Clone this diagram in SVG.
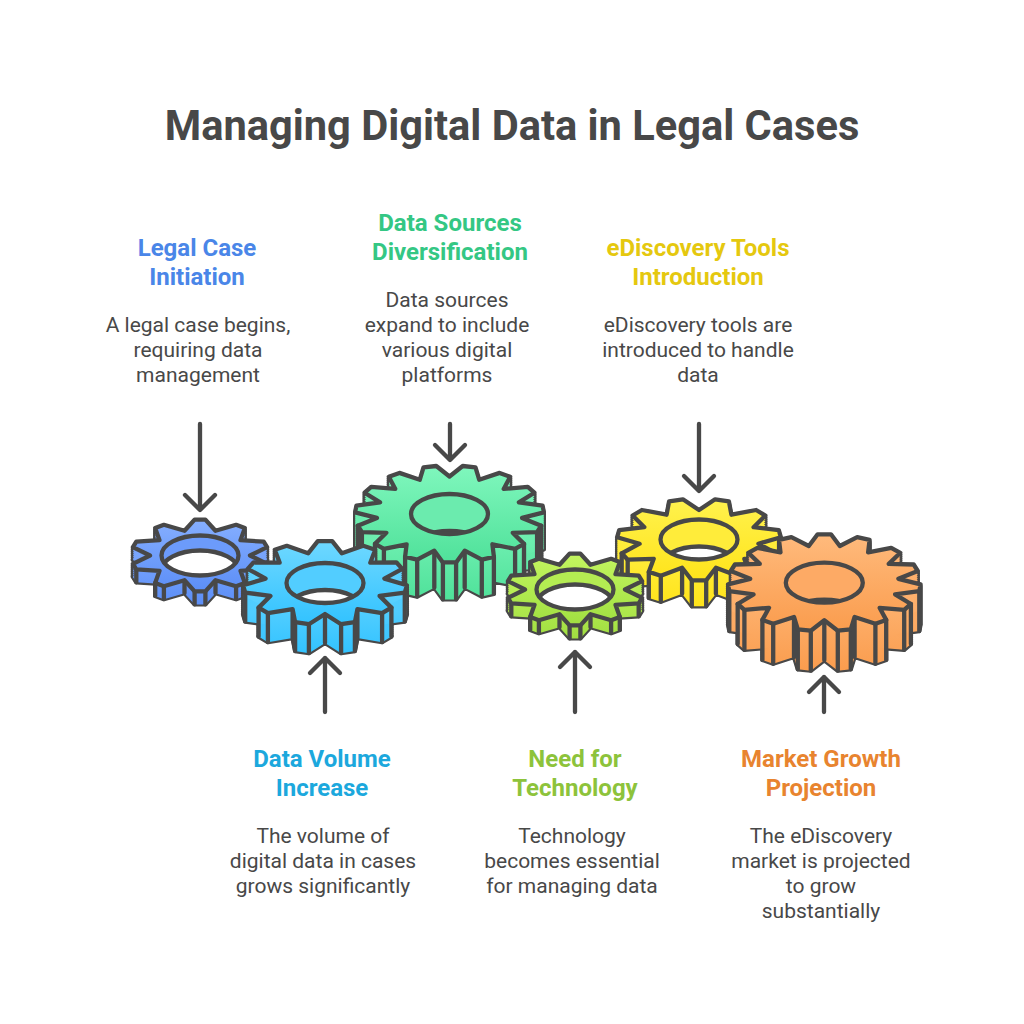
<svg xmlns="http://www.w3.org/2000/svg" width="1024" height="1024" viewBox="0 0 1024 1024">
<style>
text{font-family:Roboto,"Liberation Sans",sans-serif;text-anchor:middle}
.title{font-size:41.6px;font-weight:700;fill:#484848}
.h{font-size:24px;font-weight:700}
.b{font-size:21px;fill:#484848}
.ln{fill:none;stroke:#484848;stroke-width:4.3;stroke-linecap:round;stroke-linejoin:round}
.st{fill:#484848;stroke:#484848;stroke-width:4.3;stroke-linejoin:round}
.fc{stroke:#484848;stroke-width:4.3;stroke-linejoin:round}
</style>
<defs>
<polygon id="p10" points="5.4,-35.9 15.5,-24.7 36.1,-30.7 44.8,-27.4 40.5,-15.3 63.7,-13.8 67.1,-8.4 50,0 67.1,8.4 63.7,13.8 40.5,15.3 44.8,27.4 36.1,30.7 15.5,24.7 5.4,35.9 -5.4,35.9 -15.5,24.7 -36.1,30.7 -44.8,27.4 -40.5,15.3 -63.7,13.8 -67.1,8.4 -50,0 -67.1,-8.4 -63.7,-13.8 -40.5,-15.3 -44.8,-27.4 -36.1,-30.7 -15.5,-24.7 -5.4,-35.9"/>
<polygon id="p11" points="7.2,-41.8 16.9,-29.7 38.2,-37.2 50.2,-33.2 45.3,-20.3 71.3,-20.7 77.3,-14.1 59.4,-4.4 81.9,2.3 79.8,9.6 54.6,12.9 66.4,24.6 57.1,30.2 32.4,26.1 29.9,39.1 16.1,41.2 0,31 -16.1,41.2 -29.9,39.1 -32.4,26.1 -57.1,30.2 -66.4,24.6 -54.6,12.9 -79.8,9.6 -81.9,2.3 -59.4,-4.4 -77.3,-14.1 -71.3,-20.7 -45.3,-20.3 -50.2,-33.2 -38.2,-37.2 -16.9,-29.7 -7.2,-41.8"/>
<polygon id="y11" points="0,-29.5 16.1,-40.2 29.9,-38.2 32.4,-24.8 57.1,-29.5 66.4,-24 54.6,-12.3 79.8,-9.4 81.9,-2.2 59.4,4.2 77.3,13.8 71.3,20.2 45.3,19.3 50.2,32.4 38.2,36.3 16.9,28.2 7.2,40.8 -7.2,40.8 -16.9,28.2 -38.2,36.3 -50.2,32.4 -45.3,19.3 -71.3,20.2 -77.3,13.8 -59.4,4.2 -81.9,-2.2 -79.8,-9.4 -54.6,-12.3 -66.4,-24 -57.1,-29.5 -32.4,-24.8 -29.9,-38.2 -16.1,-40.2"/>
<polygon id="g15" points="0,-37.5 13.2,-48 26,-46.6 29.7,-34.3 50.1,-41.1 60.7,-37.2 54.2,-25.1 78.3,-27.1 84.9,-21.3 69.4,-11.6 93.1,-8.4 94.4,-1.7 72.6,3.9 91.7,11.7 87.6,18.2 63.2,18.8 74.5,29.9 65.6,34.9 42.9,30.3 44.4,42.8 32.3,45.6 15.2,36.7 6.6,48.4 -6.6,48.4 -15.2,36.7 -32.3,45.6 -44.4,42.8 -42.9,30.3 -65.6,34.9 -74.5,29.9 -63.2,18.8 -87.6,18.2 -91.7,11.7 -72.6,3.9 -94.4,-1.7 -93.1,-8.4 -69.4,-11.6 -84.9,-21.3 -78.3,-27.1 -54.2,-25.1 -60.7,-37.2 -50.1,-41.1 -29.7,-34.3 -26,-46.6 -13.2,-48"/>
<polygon id="o15" points="6.7,-48.4 15.5,-36.7 32.9,-45.6 45.3,-42.8 43.8,-30.3 66.9,-34.9 76,-29.9 64.5,-18.8 89.4,-18.2 93.5,-11.7 74.1,-3.9 96.3,1.7 95,8.4 70.8,11.6 86.6,21.3 79.9,27.1 55.3,25.1 61.9,37.2 51.1,41.1 30.3,34.3 26.5,46.6 13.5,48 0,37.5 -13.5,48 -26.5,46.6 -30.3,34.3 -51.1,41.1 -61.9,37.2 -55.3,25.1 -79.9,27.1 -86.6,21.3 -70.8,11.6 -95,8.4 -96.3,1.7 -74.1,-3.9 -93.5,-11.7 -89.4,-18.2 -64.5,-18.8 -76,-29.9 -66.9,-34.9 -43.8,-30.3 -45.3,-42.8 -32.9,-45.6 -15.5,-36.7 -6.7,-48.4"/>
<clipPath id="hole"><ellipse rx="38.5" ry="20"/></clipPath>
<g id="s10"><use href="#p10" y="2"/><use href="#p10" y="4"/><use href="#p10" y="6"/><use href="#p10" y="8"/><use href="#p10" y="10"/><use href="#p10" y="12"/><use href="#p10" y="13"/></g>
<g id="s11"><use href="#p11" y="2"/><use href="#p11" y="4"/><use href="#p11" y="6"/><use href="#p11" y="8"/><use href="#p11" y="10"/><use href="#p11" y="12"/><use href="#p11" y="14"/><use href="#p11" y="16"/><use href="#p11" y="18"/><use href="#p11" y="20"/><use href="#p11" y="22"/><use href="#p11" y="24"/><use href="#p11" y="26"/><use href="#p11" y="28"/><use href="#p11" y="29"/></g>
<g id="sy"><use href="#y11" y="2"/><use href="#y11" y="4"/><use href="#y11" y="6"/><use href="#y11" y="8"/><use href="#y11" y="10"/><use href="#y11" y="12"/><use href="#y11" y="14"/><use href="#y11" y="16"/><use href="#y11" y="18"/><use href="#y11" y="20"/><use href="#y11" y="22"/><use href="#y11" y="24"/><use href="#y11" y="26"/></g>
<g id="sg"><use href="#g15" y="2"/><use href="#g15" y="4"/><use href="#g15" y="6"/><use href="#g15" y="8"/><use href="#g15" y="10"/><use href="#g15" y="12"/><use href="#g15" y="14"/><use href="#g15" y="16"/><use href="#g15" y="18"/><use href="#g15" y="20"/><use href="#g15" y="22"/><use href="#g15" y="24"/><use href="#g15" y="26"/><use href="#g15" y="28"/><use href="#g15" y="30"/><use href="#g15" y="32"/><use href="#g15" y="34"/><use href="#g15" y="36"/><use href="#g15" y="37"/></g>
<g id="so"><use href="#o15" y="2"/><use href="#o15" y="4"/><use href="#o15" y="6"/><use href="#o15" y="8"/><use href="#o15" y="10"/><use href="#o15" y="12"/><use href="#o15" y="14"/><use href="#o15" y="16"/><use href="#o15" y="18"/><use href="#o15" y="20"/><use href="#o15" y="22"/><use href="#o15" y="24"/><use href="#o15" y="26"/><use href="#o15" y="28"/><use href="#o15" y="30"/><use href="#o15" y="32"/><use href="#o15" y="34"/><use href="#o15" y="36"/><use href="#o15" y="38"/><use href="#o15" y="40"/></g>
<linearGradient id="gb" gradientUnits="userSpaceOnUse" x1="0" y1="-36" x2="0" y2="49"><stop offset="0" stop-color="#86AFFF"/><stop offset="1" stop-color="#5488F5"/></linearGradient>
<linearGradient id="gc" gradientUnits="userSpaceOnUse" x1="0" y1="-42" x2="0" y2="70"><stop offset="0" stop-color="#6FD8FF"/><stop offset="1" stop-color="#1DBBFF"/></linearGradient>
<linearGradient id="gg" gradientUnits="userSpaceOnUse" x1="0" y1="-48" x2="0" y2="85"><stop offset="0" stop-color="#80F7BD"/><stop offset="1" stop-color="#3DD98D"/></linearGradient>
<linearGradient id="gl" gradientUnits="userSpaceOnUse" x1="0" y1="-36" x2="0" y2="49"><stop offset="0" stop-color="#C4F560"/><stop offset="1" stop-color="#9ADB3B"/></linearGradient>
<linearGradient id="gy" gradientUnits="userSpaceOnUse" x1="0" y1="-41" x2="0" y2="67"><stop offset="0" stop-color="#FFF24E"/><stop offset="1" stop-color="#FFDF0A"/></linearGradient>
<linearGradient id="go" gradientUnits="userSpaceOnUse" x1="0" y1="-48" x2="0" y2="88"><stop offset="0" stop-color="#FFBA7C"/><stop offset="1" stop-color="#F8903A"/></linearGradient>
</defs>
<rect width="1024" height="1024" fill="#fff"/>
<text class="title" x="512" y="140">Managing Digital Data in Legal Cases</text>

<g id="gear-legal-case" transform="translate(200,555.5)">
<use href="#s10" class="st"/><use href="#s10" fill="url(#gb)"/>
<path class="ln" d="M63.7 13.8v13M44.8 27.4v13M36.1 30.7v13M15.5 24.7v13M5.4 35.9v13M-63.7 13.8v13M-44.8 27.4v13M-36.1 30.7v13M-15.5 24.7v13M-5.4 35.9v13"/>
<use href="#p10" class="fc" fill="url(#gb)"/>
<ellipse rx="38.5" ry="20" fill="#6C9BFB"/>
<ellipse cy="15" rx="38.5" ry="20" fill="#fff" class="fc" clip-path="url(#hole)"/>
<ellipse rx="38.5" ry="20" class="ln"/>
</g>
<g id="gear-data-sources" transform="translate(449.5,514)">
<use href="#sg" class="st"/><use href="#sg" fill="url(#gg)"/>
<path class="ln" d="M91.7 11.7v37M87.6 18.2v37M74.5 29.9v37M65.6 34.9v37M44.4 42.8v37M32.3 45.6v37M15.2 36.7v37M6.6 48.4v37M-91.7 11.7v37M-87.6 18.2v37M-74.5 29.9v37M-65.6 34.9v37M-44.4 42.8v37M-32.3 45.6v37M-15.2 36.7v37M-6.6 48.4v37"/>
<use href="#g15" class="fc" fill="url(#gg)"/>
<ellipse rx="38.5" ry="20" fill="#6BEBAE"/>
<ellipse cy="37" rx="38.5" ry="20" fill="#fff" class="fc" clip-path="url(#hole)"/>
<ellipse rx="38.5" ry="20" class="ln"/>
</g>
<g id="gear-ediscovery" transform="translate(699,539.5)">
<use href="#sy" class="st"/><use href="#sy" fill="url(#gy)"/>
<path class="ln" d="M77.3 13.8v26M71.3 20.2v26M50.2 32.4v26M38.2 36.3v26M16.9 28.2v26M7.2 40.8v26M-77.3 13.8v26M-71.3 20.2v26M-50.2 32.4v26M-38.2 36.3v26M-16.9 28.2v26M-7.2 40.8v26"/>
<use href="#y11" class="fc" fill="url(#gy)"/>
<ellipse rx="38.5" ry="20" fill="#FFEC3A"/>
<ellipse cy="27" rx="38.5" ry="20" fill="#fff" class="fc" clip-path="url(#hole)"/>
<ellipse rx="38.5" ry="20" class="ln"/>
</g>
<g id="gear-data-volume" transform="translate(325,583)">
<use href="#s11" class="st"/><use href="#s11" fill="url(#gc)"/>
<path class="ln" d="M79.8 9.6v29M66.4 24.6v29M57.1 30.2v29M32.4 26.1v29M29.9 39.1v29M16.1 41.2v29M0 31v29M-79.8 9.6v29M-66.4 24.6v29M-57.1 30.2v29M-32.4 26.1v29M-29.9 39.1v29M-16.1 41.2v29"/>
<use href="#p11" class="fc" fill="url(#gc)"/>
<ellipse rx="38.5" ry="20" fill="#52CDFF"/>
<ellipse cy="27" rx="38.5" ry="20" fill="#fff" class="fc" clip-path="url(#hole)"/>
<ellipse rx="38.5" ry="20" class="ln"/>
</g>
<g id="gear-technology" transform="translate(575,589.5)">
<use href="#s10" class="st"/><use href="#s10" fill="url(#gl)"/>
<path class="ln" d="M63.7 13.8v13M44.8 27.4v13M36.1 30.7v13M15.5 24.7v13M5.4 35.9v13M-63.7 13.8v13M-44.8 27.4v13M-36.1 30.7v13M-15.5 24.7v13M-5.4 35.9v13"/>
<use href="#p10" class="fc" fill="url(#gl)"/>
<ellipse rx="38.5" ry="20" fill="#B4EC52"/>
<ellipse cy="15" rx="38.5" ry="20" fill="#fff" class="fc" clip-path="url(#hole)"/>
<ellipse rx="38.5" ry="20" class="ln"/>
</g>
<g id="gear-market" transform="translate(824.3,582.7)">
<use href="#so" class="st"/><use href="#so" fill="url(#go)"/>
<path class="ln" d="M95 8.4v40M86.6 21.3v40M79.9 27.1v40M61.9 37.2v40M51.1 41.1v40M30.3 34.3v40M26.5 46.6v40M13.5 48v40M0 37.5v40M-95 8.4v40M-86.6 21.3v40M-79.9 27.1v40M-61.9 37.2v40M-51.1 41.1v40M-30.3 34.3v40M-26.5 46.6v40M-13.5 48v40"/>
<use href="#o15" class="fc" fill="url(#go)"/>
<ellipse rx="38.5" ry="20" fill="#FDAA65"/>
<ellipse cy="37" rx="38.5" ry="20" fill="#fff" class="fc" clip-path="url(#hole)"/>
<ellipse rx="38.5" ry="20" class="ln"/>
</g>

<g id="connectors" class="ln">
<path d="M200 424V510M185 495L200 510L215 495"/>
<path d="M450 424V460M435 445L450 460L465 445"/>
<path d="M699 424V491M684 476L699 491L714 476"/>
<path d="M325 712V658M310 673L325 658L340 673"/>
<path d="M575 712V652M560 667L575 652L590 667"/>
<path d="M824 712V677M809 692L824 677L839 692"/>
</g>

<g id="label-legal-case"><text class="h" fill="#4A86E8" x="197" y="256">Legal Case</text><text class="h" fill="#4A86E8" x="197" y="285">Initiation</text>
<text class="b" x="198" y="332">A legal case begins,</text><text class="b" x="198" y="357">requiring data</text><text class="b" x="198" y="382">management</text></g>
<g id="label-data-sources"><text class="h" fill="#34C784" x="450" y="231">Data Sources</text><text class="h" fill="#34C784" x="450" y="260">Diversification</text>
<text class="b" x="447" y="307">Data sources</text><text class="b" x="447" y="332">expand to include</text><text class="b" x="447" y="357">various digital</text><text class="b" x="447" y="382">platforms</text></g>
<g id="label-ediscovery"><text class="h" fill="#E5C80F" x="698" y="256">eDiscovery Tools</text><text class="h" fill="#E5C80F" x="698" y="285">Introduction</text>
<text class="b" x="698" y="332">eDiscovery tools are</text><text class="b" x="698" y="357">introduced to handle</text><text class="b" x="698" y="382">data</text></g>
<g id="label-data-volume"><text class="h" fill="#1CA8DD" x="322" y="767">Data Volume</text><text class="h" fill="#1CA8DD" x="322" y="796">Increase</text>
<text class="b" x="323" y="843">The volume of</text><text class="b" x="323" y="868">digital data in cases</text><text class="b" x="323" y="893">grows significantly</text></g>
<g id="label-technology"><text class="h" fill="#8DC33B" x="575" y="767">Need for</text><text class="h" fill="#8DC33B" x="575" y="796">Technology</text>
<text class="b" x="572" y="843">Technology</text><text class="b" x="572" y="868">becomes essential</text><text class="b" x="572" y="893">for managing data</text></g>
<g id="label-market"><text class="h" fill="#E8842F" x="821" y="767">Market Growth</text><text class="h" fill="#E8842F" x="821" y="796">Projection</text>
<text class="b" x="821" y="843">The eDiscovery</text><text class="b" x="821" y="868">market is projected</text><text class="b" x="821" y="893">to grow</text><text class="b" x="821" y="918">substantially</text></g>
</svg>
